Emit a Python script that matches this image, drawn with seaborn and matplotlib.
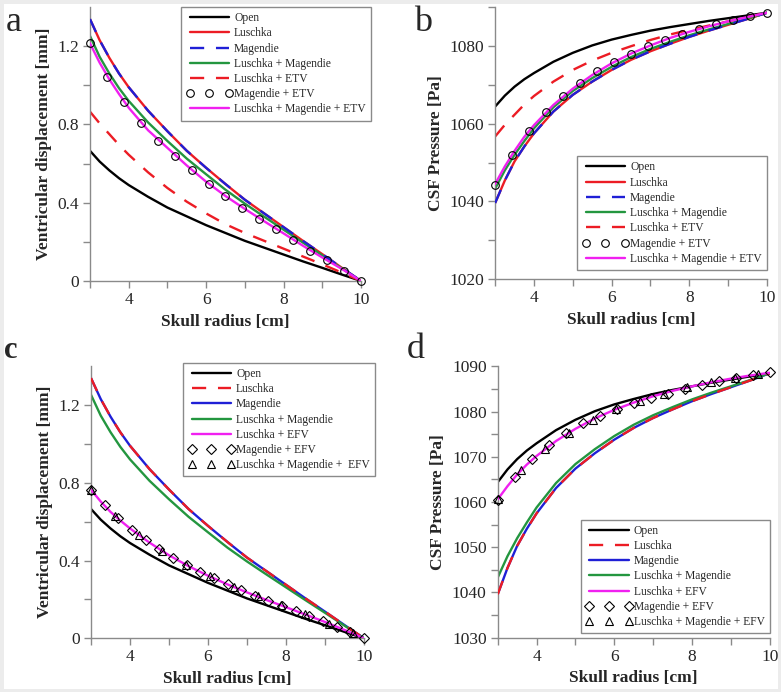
import matplotlib
matplotlib.use("Agg")
import matplotlib.pyplot as plt
import seaborn as sns
from matplotlib.patches import Rectangle

# =========================================================
# DATA
# =========================================================

radius = [3, 3.25, 3.5, 3.75, 4, 4.5, 5, 5.5, 6, 6.5, 7, 7.5, 8, 8.5, 9, 9.5, 10]

# marker positions
circle_r = [3.0, 3.4375, 3.875, 4.3125, 4.75, 5.1875, 5.625, 6.0625, 6.5,
            6.9375, 7.375, 7.8125, 8.25, 8.6875, 9.125, 9.5625, 10.0]
diamond_r_c = [3.0, 3.35, 3.7, 4.05, 4.4, 4.75, 5.1, 5.45, 5.8, 6.15, 6.5,
               6.85, 7.2, 7.55, 7.9, 8.25, 8.6, 8.95, 9.3, 9.65, 10.0]
triangle_r = [3.0, 3.61, 4.22, 4.83, 5.44, 6.05, 6.66, 7.27, 7.88, 8.49, 9.1, 9.71]

# ventricular displacement [mm]
disp_open = [0.665, 0.61, 0.565, 0.525, 0.49, 0.43, 0.375, 0.33, 0.285,
             0.245, 0.205, 0.17, 0.135, 0.10, 0.067, 0.033, 0.0]
disp_luschka = [1.338, 1.23, 1.14, 1.06, 0.99, 0.87, 0.765, 0.665, 0.578,
                0.495, 0.415, 0.345, 0.275, 0.205, 0.137, 0.068, 0.0]
disp_magendie = [1.338, 1.23, 1.14, 1.06, 0.99, 0.87, 0.765, 0.665, 0.578,
                 0.495, 0.415, 0.345, 0.275, 0.205, 0.137, 0.068, 0.0]
disp_lus_mag = [1.252, 1.145, 1.06, 0.985, 0.92, 0.81, 0.715, 0.625, 0.545,
                0.466, 0.395, 0.328, 0.262, 0.196, 0.131, 0.065, 0.0]
disp_lus_etv = [0.865, 0.805, 0.75, 0.695, 0.645, 0.555, 0.475, 0.405, 0.345,
                0.29, 0.245, 0.205, 0.165, 0.125, 0.085, 0.043, 0.0]
disp_mag_etv = [1.214, 1.044, 0.915, 0.805, 0.715, 0.638, 0.566, 0.497, 0.434,
                0.375, 0.318, 0.263, 0.21, 0.155, 0.105, 0.053, 0.0]
disp_lus_mag_etv = [1.214, 1.115, 1.03, 0.955, 0.885, 0.77, 0.68, 0.59, 0.507,
                    0.434, 0.368, 0.305, 0.243, 0.18, 0.12, 0.062, 0.0]
disp_lus_efv = [0.764, 0.703, 0.65, 0.606, 0.565, 0.492, 0.427, 0.371, 0.322,
                0.277, 0.236, 0.197, 0.16, 0.122, 0.084, 0.043, 0.0]
disp_mag_efv = [0.764, 0.685, 0.618, 0.558, 0.505, 0.458, 0.415, 0.376, 0.341,
                0.308, 0.277, 0.248, 0.22, 0.193, 0.167, 0.141, 0.115, 0.088,
                0.06, 0.031, 0.0]
disp_lus_mag_efv = [0.764, 0.631, 0.533, 0.449, 0.378, 0.318, 0.264, 0.215,
                    0.169, 0.123, 0.076, 0.025]

# CSF pressure [Pa]
pres_open = [1064.4, 1067.2, 1069.5, 1071.4, 1073.0, 1075.9, 1078.2, 1080.1,
             1081.6, 1082.8, 1083.9, 1084.8, 1085.6, 1086.4, 1087.1, 1087.8, 1088.5]
pres_luschka = [1039.6, 1045.4, 1050.3, 1054.1, 1057.5, 1063.1, 1067.4, 1070.8,
                1073.8, 1076.4, 1078.6, 1080.5, 1082.3, 1083.9, 1085.4, 1086.9, 1088.5]
pres_magendie = [1039.6, 1045.4, 1050.3, 1054.1, 1057.5, 1063.1, 1067.4, 1070.8,
                 1073.8, 1076.4, 1078.6, 1080.5, 1082.3, 1083.9, 1085.4, 1086.9, 1088.5]
pres_lus_mag = [1043.3, 1048.0, 1052.0, 1055.5, 1058.8, 1064.2, 1068.4, 1071.7,
                1074.6, 1077.1, 1079.2, 1081.0, 1082.7, 1084.2, 1085.6, 1087.0, 1088.5]
pres_lus_etv = [1056.7, 1059.7, 1062.3, 1064.9, 1067.1, 1070.8, 1073.8, 1076.2,
                1078.2, 1079.9, 1081.5, 1082.9, 1084.1, 1085.2, 1086.3, 1087.4, 1088.5]
pres_mag_etv = [1044.3, 1052.0, 1058.2, 1063.1, 1067.1, 1070.5, 1073.4, 1075.9,
                1078.0, 1079.9, 1081.6, 1083.1, 1084.4, 1085.6, 1086.6, 1087.6, 1088.5]
pres_lus_mag_etv = [1044.5, 1049.0, 1053.0, 1056.6, 1059.6, 1064.8, 1069.0, 1072.5,
                    1075.5, 1078.0, 1080.1, 1082.0, 1083.6, 1085.0, 1086.3, 1087.4, 1088.5]
pres_lus_efv = [1060.6, 1063.5, 1066.1, 1068.3, 1070.2, 1073.5, 1076.2, 1078.5,
                1080.4, 1082.0, 1083.4, 1084.6, 1085.6, 1086.5, 1087.3, 1088.0, 1088.6]
pres_mag_efv = [1060.5, 1065.6, 1069.5, 1072.7, 1075.3, 1077.4, 1079.1, 1080.6,
                1081.9, 1083.0, 1084.0, 1085.0, 1085.9, 1086.7, 1087.4, 1088.1, 1088.7]
pres_lus_mag_efv = [1060.6, 1067.1, 1071.7, 1075.3, 1078.2, 1080.6, 1082.4,
                    1084.0, 1085.4, 1086.5, 1087.4, 1088.3]

# axis ticks
x_major = [4, 6, 8, 10]
x_minor = [3, 5, 7, 9]
disp_major = [0, 0.4, 0.8, 1.2]
disp_major_labels = ["0", "0.4", "0.8", "1.2"]
disp_minor = [0.2, 0.6, 1.0]
pres_b_major = [1020, 1040, 1060, 1080]
pres_b_minor = [1030, 1050, 1070, 1090]
pres_d_major = [1030, 1040, 1050, 1060, 1070, 1080, 1090]
pres_d_minor = [1035, 1045, 1055, 1065, 1075, 1085]

# =========================================================
# STYLE
# =========================================================

sns.set_style("ticks")
plt.rcParams["font.family"] = ["Liberation Serif", "DejaVu Serif"]

RED = "#ec1c24"
BLUE = "#1f1fd6"
GREEN = "#23963f"
MAGENTA = "#f020f0"
GRAY = "#8a8a8a"
LW = 1.7
DASH = (0, (6, 5))

fig = plt.figure(figsize=(7.81, 6.92), dpi=100)
fig.patches.append(Rectangle((0, 0), 1, 1, transform=fig.transFigure,
                             fill=False, edgecolor="#ececec", linewidth=5))

ax_a = fig.add_axes([0.1152, 0.5940, 0.3470, 0.3960])
ax_b = fig.add_axes([0.6340, 0.5965, 0.3480, 0.3935])
ax_c = fig.add_axes([0.1165, 0.0776, 0.3496, 0.3935])
ax_d = fig.add_axes([0.6373, 0.0785, 0.3483, 0.3920])


def line(ax, y, color, label, dashed=False, z=2):
    kw = dict(linestyle=DASH) if dashed else {}
    sns.lineplot(x=radius, y=y, color=color, linewidth=LW, label=label,
                 ax=ax, zorder=z, legend=False, **kw)


def marks(ax, x, y, marker, size, label):
    sns.lineplot(x=x, y=y, color="black", linestyle="none", marker=marker,
                 markersize=size, mfc="none", mec="black", mew=0.8,
                 label=label, ax=ax, zorder=5, legend=False, clip_on=False)


def style_axis(ax, ylabel, ymajor, yminor, ylim, ylabels=None):
    ax.set_xlim(3, 10)
    ax.set_ylim(*ylim)
    ax.set_xticks(x_major)
    ax.set_xticks(x_minor, minor=True)
    ax.set_yticks(ymajor)
    if ylabels is not None:
        ax.set_yticklabels(ylabels)
    ax.set_yticks(yminor, minor=True)
    ax.tick_params(which="both", direction="out", length=5, width=1,
                   color=GRAY, labelsize=12.5, pad=3)
    sns.despine(ax=ax)
    for s in ("left", "bottom"):
        ax.spines[s].set_color(GRAY)
        ax.spines[s].set_linewidth(1)
    ax.set_xlabel("Skull radius [cm]", fontsize=12.5, fontweight="bold", labelpad=4)
    ax.set_ylabel(ylabel, fontsize=12.5, fontweight="bold", labelpad=4)


def make_legend(ax, loc, anchor):
    leg = ax.legend(loc=loc, bbox_to_anchor=anchor, fontsize=8.3,
                    handlelength=4.0, handletextpad=0.15, labelspacing=0.28,
                    borderpad=0.45, borderaxespad=0, numpoints=3,
                    frameon=True, fancybox=False, framealpha=1)
    leg.get_frame().set_edgecolor(GRAY)
    leg.get_frame().set_linewidth(1)
    leg.set_zorder(10)


# =========================================================
# PANEL a
# =========================================================

line(ax_a, disp_open, "black", "Open")
line(ax_a, disp_luschka, RED, "Luschka")
line(ax_a, disp_magendie, BLUE, "Magendie", dashed=True, z=3)
line(ax_a, disp_lus_mag, GREEN, "Luschka + Magendie")
line(ax_a, disp_lus_etv, RED, "Luschka + ETV", dashed=True)
marks(ax_a, circle_r, disp_mag_etv, "o", 5.5, "Magendie + ETV")
line(ax_a, disp_lus_mag_etv, MAGENTA, "Luschka + Magendie + ETV", z=4)
style_axis(ax_a, "Ventricular displacement [mm]", disp_major, disp_minor,
           (0, 1.4), disp_major_labels)
make_legend(ax_a, "upper right", (1.037, 1.0))

# =========================================================
# PANEL b
# =========================================================

line(ax_b, pres_open, "black", "Open")
line(ax_b, pres_luschka, RED, "Luschka")
line(ax_b, pres_magendie, BLUE, "Magendie", dashed=True, z=3)
line(ax_b, pres_lus_mag, GREEN, "Luschka + Magendie")
line(ax_b, pres_lus_etv, RED, "Luschka + ETV", dashed=True)
marks(ax_b, circle_r, pres_mag_etv, "o", 5.5, "Magendie + ETV")
line(ax_b, pres_lus_mag_etv, MAGENTA, "Luschka + Magendie + ETV", z=4)
style_axis(ax_b, "CSF Pressure [Pa]", pres_b_major, pres_b_minor, (1020, 1090))
make_legend(ax_b, "lower right", (1.0, 0.034))

# =========================================================
# PANEL c
# =========================================================

line(ax_c, disp_open, "black", "Open")
line(ax_c, disp_luschka, RED, "Luschka", dashed=True, z=3)
line(ax_c, disp_magendie, BLUE, "Magendie")
line(ax_c, disp_lus_mag, GREEN, "Luschka + Magendie")
line(ax_c, disp_lus_efv, MAGENTA, "Luschka + EFV", z=4)
marks(ax_c, diamond_r_c, disp_mag_efv, "D", 4.6, "Magendie + EFV")
marks(ax_c, triangle_r, disp_lus_mag_efv, "^", 5.5, "Luschka + Magendie +  EFV")
style_axis(ax_c, "Ventricular displacement [mm]", disp_major, disp_minor,
           (0, 1.4), disp_major_labels)
make_legend(ax_c, "upper right", (1.04, 1.012))

# =========================================================
# PANEL d
# =========================================================

line(ax_d, pres_open, "black", "Open")
line(ax_d, pres_luschka, RED, "Luschka", dashed=True, z=3)
line(ax_d, pres_magendie, BLUE, "Magendie")
line(ax_d, pres_lus_mag, GREEN, "Luschka + Magendie")
line(ax_d, pres_lus_efv, MAGENTA, "Luschka + EFV", z=4)
marks(ax_d, circle_r, pres_mag_efv, "D", 4.6, "Magendie + EFV")
marks(ax_d, triangle_r, pres_lus_mag_efv, "^", 5.5, "Luschka + Magendie + EFV")
style_axis(ax_d, "CSF Pressure [Pa]", pres_d_major, pres_d_minor, (1030, 1090))
make_legend(ax_d, "lower right", (1.0, 0.016))

# =========================================================
# PANEL LETTERS
# =========================================================

fig.text(0.007, 0.955, "a", fontsize=26, ha="left", va="baseline")
fig.text(0.530, 0.955, "b", fontsize=26, ha="left", va="baseline")
fig.text(0.005, 0.483, "c", fontsize=22, fontweight="bold", ha="left", va="baseline")
fig.text(0.521, 0.483, "d", fontsize=26, ha="left", va="baseline")

fig.savefig("out.png", dpi=100, facecolor="white")
